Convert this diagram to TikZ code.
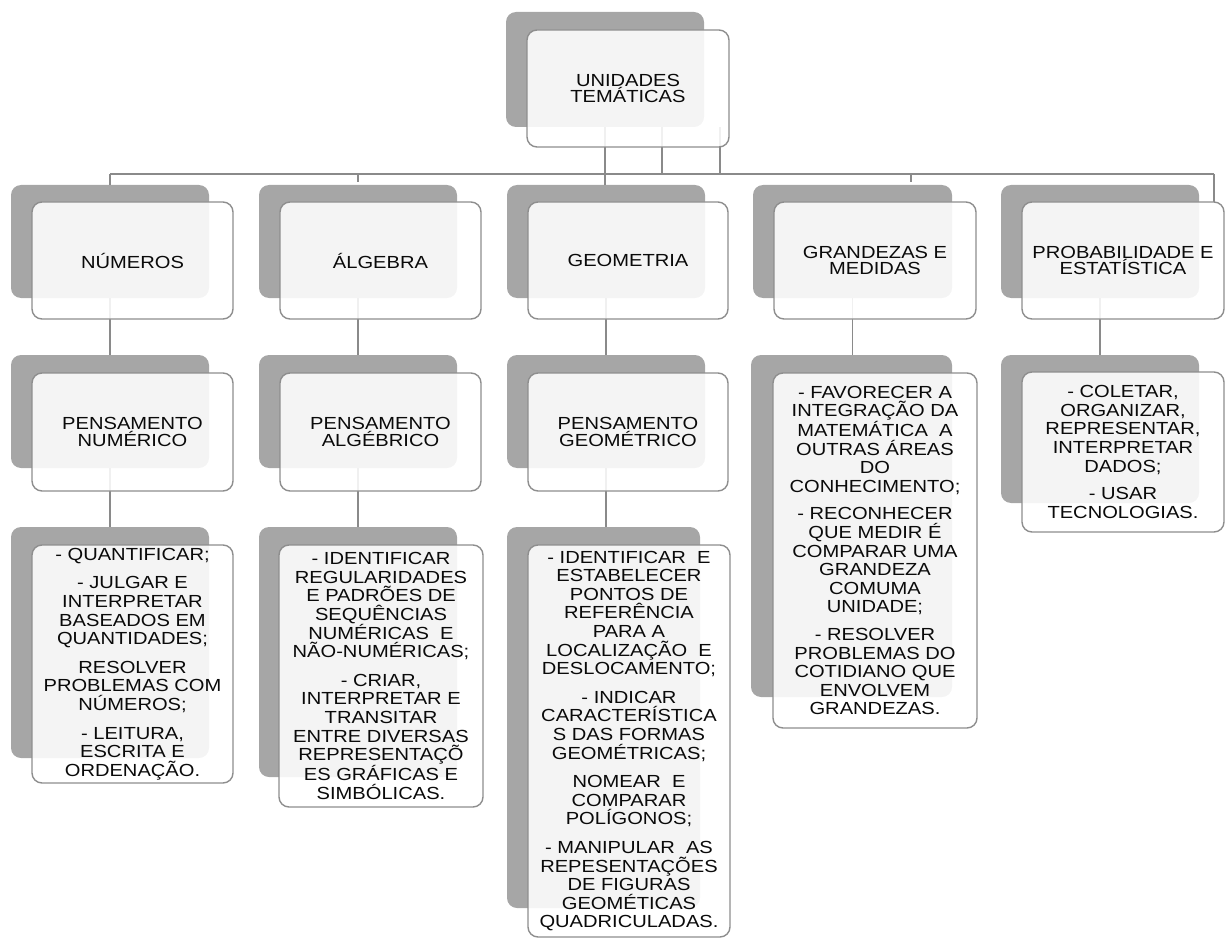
\documentclass[tikz,border=0pt]{standalone}
\usepackage{fontspec}
\setmainfont[FakeStretch=1.15]{Liberation Sans}
\definecolor{shadowgray}{HTML}{A6A6A6}
\definecolor{bordergray}{HTML}{8E8E8E}
\definecolor{linegray}{HTML}{8A8A8A}
\definecolor{txt}{HTML}{0A0A0A}
\pgfdeclarelayer{shadows}
\pgfdeclarelayer{lines}
\pgfsetlayers{shadows,lines,main}
\tikzset{
  shadowbox/.style={fill=shadowgray, draw=none, rounded corners=10pt, inner sep=0pt, outer sep=0pt},
  frontbox/.style={fill=white, fill opacity=0.88, text opacity=1, draw=bordergray, line width=1.4pt,
    rounded corners=10pt, inner sep=0pt, outer sep=0pt, align=center, text=txt},
  headtext/.style={font=\fontsize{17.5}{16.5}\selectfont},
  bodytext/.style={font=\fontsize{17.5}{18.6}\selectfont},
  conn/.style={draw=linegray, line width=1.5pt},
}
\newcommand{\shadowrect}[5]{\begin{pgfonlayer}{shadows}\node[shadowbox, minimum width={#4-#2}, minimum height={#5-#3}] (#1) at ({(#2+#4)/2},{-(#3+#5)/2}) {};\end{pgfonlayer}}
\newcommand{\frontrect}[7]{\node[frontbox, #7, minimum width={#4-#2}, minimum height={#5-#3}] (#1) at ({(#2+#4)/2},{-(#3+#5)/2}) {#6};}
\begin{document}
\begin{tikzpicture}[x=1pt,y=1pt]
\useasboundingbox (0,0) rectangle (1227,-939);
% top
\shadowrect{s-top}{506}{12}{704}{127}
\frontrect{f-top}{527}{30}{729}{147}{UNIDADES\\TEMÁTICAS}{headtext}
% level 2
\shadowrect{s-num}{11}{185}{209}{298}
\frontrect{f-num}{32}{202}{233}{319}{NÚMEROS}{headtext}
\shadowrect{s-alg}{259}{185}{457}{298}
\frontrect{f-alg}{280}{202}{481}{319}{ÁLGEBRA}{headtext}
\shadowrect{s-geo}{507}{185}{705}{298}
\frontrect{f-geo}{528}{202}{728}{319}{GEOMETRIA}{headtext}
\shadowrect{s-gra}{753}{185}{952}{298}
\frontrect{f-gra}{774}{202}{976}{319}{GRANDEZAS E\\MEDIDAS}{headtext}
\shadowrect{s-pro}{1001}{185}{1199}{298}
\frontrect{f-pro}{1022}{202}{1224}{319}{PROBABILIDADE E\\ESTATÍSTICA}{headtext}
% level 3
\shadowrect{s-pnum}{11}{355}{209}{468}
\frontrect{f-pnum}{32}{373}{233}{491}{PENSAMENTO\\NUMÉRICO}{headtext}
\shadowrect{s-palg}{259}{355}{457}{468}
\frontrect{f-palg}{280}{373}{481}{491}{PENSAMENTO\\ALGÉBRICO}{headtext}
\shadowrect{s-pgeo}{507}{355}{705}{468}
\frontrect{f-pgeo}{528}{373}{728}{491}{PENSAMENTO\\GEOMÉTRICO}{headtext}
\shadowrect{s-dgra}{751}{355}{952}{697}
\frontrect{f-dgra}{773}{373}{977}{728}{- FAVORECER A\\INTEGRAÇÃO DA\\MATEMÁTICA\ \ A\\OUTRAS ÁREAS\\DO\\CONHECIMENTO;\\[9pt]- RECONHECER\\QUE MEDIR É\\COMPARAR UMA\\GRANDEZA\\COMUMA\\UNIDADE;\\[9pt]- RESOLVER\\PROBLEMAS DO\\COTIDIANO QUE\\ENVOLVEM\\GRANDEZAS.}{bodytext}
\shadowrect{s-dpro}{1001}{355}{1199}{503}
\frontrect{f-dpro}{1022}{372}{1224}{532}{- COLETAR,\\ORGANIZAR,\\REPRESENTAR,\\INTERPRETAR\\DADOS;\\[9pt]- USAR\\TECNOLOGIAS.}{bodytext}
% level 4
\shadowrect{s-dnum}{11}{527}{209}{758}
\frontrect{f-dnum}{32}{545}{233}{783}{- QUANTIFICAR;\\[10pt]- JULGAR E\\INTERPRETAR\\BASEADOS EM\\QUANTIDADES;\\[10pt]RESOLVER\\PROBLEMAS COM\\NÚMEROS;\\[10pt]- LEITURA,\\ESCRITA E\\ORDENAÇÃO.}{bodytext}
\shadowrect{s-dalg}{259}{527}{457}{777}
\frontrect{f-dalg}{279}{545}{483}{807}{- IDENTIFICAR\\REGULARIDADES\\E PADRÕES DE\\SEQUÊNCIAS\\NUMÉRICAS\ \ E\\NÃO-NUMÉRICAS;\\[10pt]- CRIAR,\\INTERPRETAR E\\TRANSITAR\\ENTRE DIVERSAS\\REPRESENTAÇÕ\\ES GRÁFICAS E\\SIMBÓLICAS.}{bodytext}
\shadowrect{s-dgeo}{507}{527}{700}{908}
\frontrect{f-dgeo}{528}{545}{730}{937}{- IDENTIFICAR\ \ E\\ESTABELECER\\PONTOS DE\\REFERÊNCIA\\PARA A\\LOCALIZAÇÃO\ \ E\\DESLOCAMENTO;\\[10pt]- INDICAR\\CARACTERÍSTICA\\S DAS FORMAS\\GEOMÉTRICAS;\\[10pt]NOMEAR\ \ E\\COMPARAR\\POLÍGONOS;\\[10pt]- MANIPULAR\ \ AS\\REPESENTAÇÕES\\DE FIGURAS\\GEOMÉTICAS\\QUADRICULADAS.}{bodytext}
% connectors
\coordinate (busL) at (110,-174);
\coordinate (busR) at (1214,-174);
\coordinate (t2) at (662,-174);
\coordinate (t3) at (720,-174);
\coordinate (g2) at (911,-174);
\begin{pgfonlayer}{lines}
\draw[conn] (busL) -- (busR);
\draw[conn] (s-top.south) -- (s-top.south |- s-geo.north);
\draw[conn] (t2 |- s-top.south) -- (t2);
\draw[conn] (t3 |- s-top.south) -- (t3);
\draw[conn] (busL) -- (s-num.north);
\draw[conn] (s-alg.north |- busL) -- ([yshift=3pt]s-alg.north);
\draw[conn] (g2) -- ([yshift=3pt]g2 |- s-gra.north);
\draw[conn] (busR) -- (busR |- f-pro.north);
\draw[conn] (s-num.south) -- (s-pnum.north);
\draw[conn] (s-alg.south) -- (s-palg.north);
\draw[conn] (s-geo.south) -- (s-pgeo.north);
\draw[conn] (s-gra.south) -- (s-gra.south |- s-dgra.north);
\draw[conn] (s-pro.south) -- (s-dpro.north);
\draw[conn] (s-pnum.south) -- (s-dnum.north);
\draw[conn] (s-palg.south) -- (s-dalg.north);
\draw[conn] (s-pgeo.south) -- (s-pgeo.south |- s-dgeo.north);
\end{pgfonlayer}
\end{tikzpicture}
\end{document}
